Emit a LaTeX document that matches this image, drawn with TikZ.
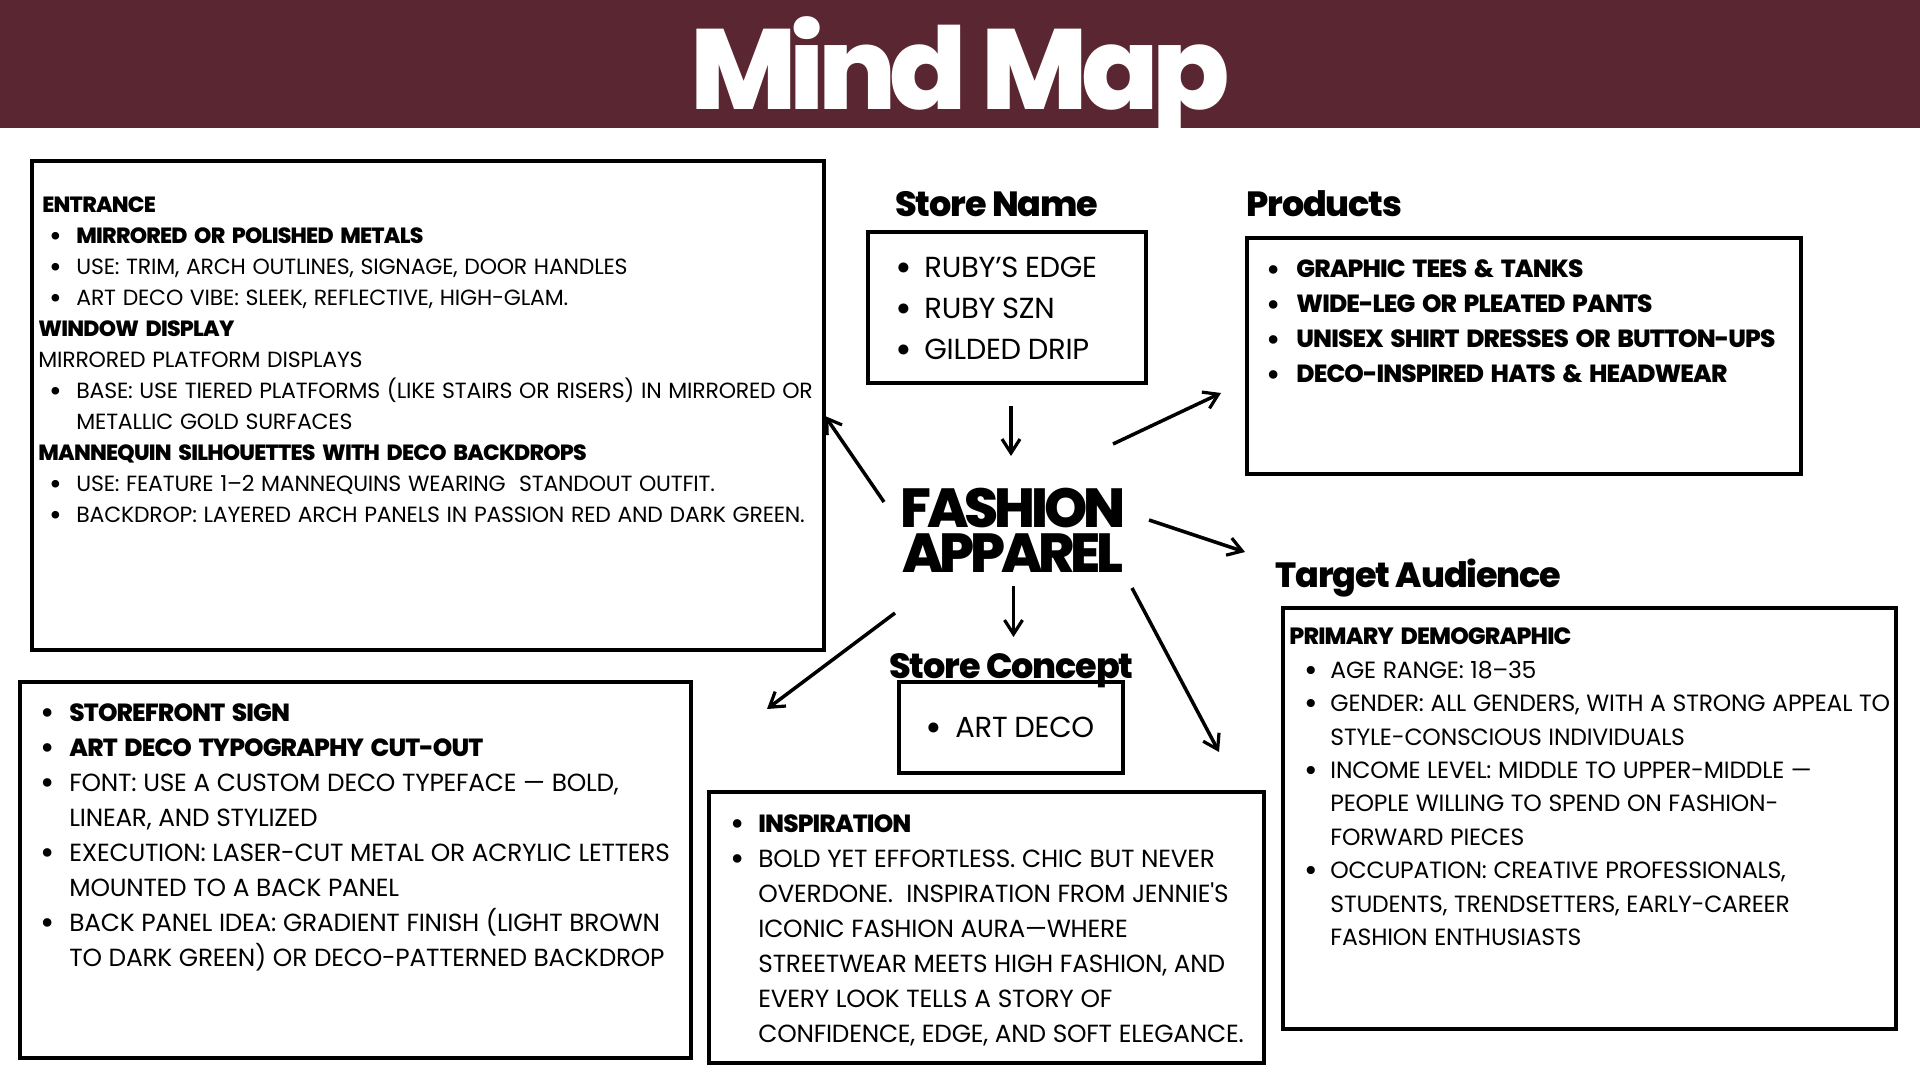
\documentclass[tikz,border=0pt]{standalone}
\usepackage{fontspec}
\usepackage{graphicx}
\usetikzlibrary{arrows.meta}
\setmainfont{Poppins}
\newfontfamily\headfont[LetterSpace=-3.3,BoldFont={Poppins ExtraBold}]{Poppins}
\newfontfamily\titlefont[LetterSpace=-6,BoldFont={Poppins ExtraBold}]{Poppins}
\newfontfamily\centerfont[LetterSpace=-7.5,BoldFont={Poppins ExtraBold}]{Poppins}
\newfontfamily\bodyfont[LetterSpace=-0.9]{Poppins}
\newfontfamily\boldbody[LetterSpace=-3.5,BoldFont={Poppins ExtraBold}]{Poppins}
\newlength\bulin \newlength\txtin
\newcommand\setbul[2]{\setlength\bulin{#1}\setlength\txtin{#2}}
\newcommand\hb[1]{{\boldbody\bfseries #1}}
\newcommand\bul[1]{\par\hangindent=\txtin\hangafter=1\noindent\hbox to \txtin{\hskip\bulin\raisebox{-0.14em}{\scalebox{1.4}{•}}\hfil}\strut #1}
\newcommand\plain[2][0pt]{\par\noindent\hskip#1\strut #2}
\newcommand\fs[2]{\fontsize{#1}{#2}\selectfont}
\definecolor{banner}{HTML}{5A2631}
\tikzset{
  x=0.5pt,y=-0.5pt,
  box/.style={draw=black,line width=1.8pt,anchor=north west,inner sep=0pt,outer sep=0pt,fill=none},
  boxtext/.style={anchor=north west,inner sep=0pt,text=black,font=\bodyfont},
  headtext/.style={anchor=base west,inner sep=0pt,text=black,font=\headfont\bfseries\fontsize{17.5}{20}\selectfont},
  link/.style={line width=1.75pt,-{Straight Barb[length=7pt,width=9pt,line width=1.6pt]}},
}
\newcommand\boxat[5]{\node[box,minimum width=#4*0.5pt,minimum height=#5*0.5pt] (#1) at (#2,#3) {};}
\begin{document}
\begin{tikzpicture}
\useasboundingbox (0,0) rectangle (1920,1080);
\fill[banner] (0,0) rectangle (1920,128);
\node[anchor=base,inner sep=0pt,text=white,font=\titlefont\bfseries\fontsize{57}{60}\selectfont] (title) at (960,110) {Mind Map};

\boxat{entrancebox}{32}{161}{792}{489}
\boxat{namebox}{868}{232}{278}{151}
\boxat{productbox}{1247}{238}{554}{236}
\boxat{targetbox}{1283}{608}{613}{421}
\boxat{conceptbox}{899}{682}{224}{91}
\boxat{inspirebox}{709}{792}{555}{271}
\boxat{signbox}{20}{682}{671}{376}

\node[headtext] (namehead) at (895,217) {Store Name};
\node[headtext] (producthead) at (1246,217) {Products};
\node[headtext] (targethead) at (1275,587) {Target Audience};
\node[headtext] (concepthead) at (889,678) {Store Concept};

\node[inner sep=0pt,anchor=base,font=\centerfont\bfseries\fontsize{27.5}{22.5}\selectfont,align=center] (fashion) at (1013,572) {FASHION\\APPAREL};

\node[boxtext,text width=395pt] (entrancetext) at (38,181) {\fs{11}{15.5}\setbul{5.7pt}{19pt}%
\plain[2pt]{\hb{ENTRANCE}}
\bul{\hb{MIRRORED OR POLISHED METALS}}
\bul{USE: TRIM, ARCH OUTLINES, SIGNAGE, DOOR HANDLES}
\bul{ART DECO VIBE: SLEEK, REFLECTIVE, HIGH-GLAM.}
\plain{\hb{WINDOW DISPLAY}}
\plain{MIRRORED PLATFORM DISPLAYS}
\bul{BASE: USE TIERED PLATFORMS (LIKE STAIRS OR RISERS) IN MIRRORED OR\newline METALLIC GOLD SURFACES}
\plain{\hb{MANNEQUIN SILHOUETTES WITH DECO BACKDROPS}}
\bul{USE: FEATURE 1–2 MANNEQUINS WEARING\ \ STANDOUT OUTFIT.}
\bul{BACKDROP: LAYERED ARCH PANELS IN PASSION RED AND DARK GREEN.}\par
};

\node[boxtext,text width=120pt] (nametext) at (892,236) {\fs{14.5}{20.5}\setbul{1.3pt}{16pt}%
\bul{RUBY’S EDGE}
\bul{RUBY SZN}
\bul{GILDED DRIP}\par
};

\node[boxtext,text width=275pt] (producttext) at (1265,242.5) {\fs{12.4}{17.5}\setbul{0.7pt}{15.5pt}%
\bul{\hb{GRAPHIC TEES \& TANKS}}
\bul{\hb{WIDE-LEG OR PLEATED PANTS}}
\bul{\hb{UNISEX SHIRT DRESSES OR BUTTON-UPS}}
\bul{\hb{DECO-INSPIRED HATS \& HEADWEAR}}\par
};

\node[boxtext,text width=305pt] (targettext) at (1289,611) {\fs{11.75}{16.7}\setbul{7.3pt}{20.5pt}%
\plain{\hb{PRIMARY DEMOGRAPHIC}}
\bul{AGE RANGE: 18–35}
\bul{GENDER: ALL GENDERS, WITH A STRONG APPEAL TO\newline STYLE-CONSCIOUS INDIVIDUALS}
\bul{INCOME LEVEL: MIDDLE TO UPPER-MIDDLE —\newline PEOPLE WILLING TO SPEND ON FASHION-\newline FORWARD PIECES}
\bul{OCCUPATION: CREATIVE PROFESSIONALS,\newline STUDENTS, TRENDSETTERS, EARLY-CAREER\newline FASHION ENTHUSIASTS}\par
};

\node[boxtext,text width=90pt] (concepttext) at (926,696.5) {\fs{14.5}{20.5}\setbul{-0.5pt}{14.5pt}%
\bul{ART DECO}\par
};

\node[boxtext,text width=270pt] (inspiretext) at (733,797) {\fs{12.4}{17.5}\setbul{-1.7pt}{12.5pt}%
\bul{\hb{INSPIRATION}}
\bul{BOLD YET EFFORTLESS. CHIC BUT NEVER\newline OVERDONE.\ \ INSPIRATION FROM JENNIE'S\newline ICONIC FASHION AURA—WHERE\newline STREETWEAR MEETS HIGH FASHION, AND\newline EVERY LOOK TELLS A STORY OF\newline CONFIDENCE, EDGE, AND SOFT ELEGANCE.}\par
};

\node[boxtext,text width=330pt] (signtext) at (44,686) {\fs{12.4}{17.5}\setbul{-1.7pt}{12.5pt}%
\bul{\hb{STOREFRONT SIGN}}
\bul{\hb{ART DECO TYPOGRAPHY CUT-OUT}}
\bul{FONT: USE A CUSTOM DECO TYPEFACE — BOLD,\newline LINEAR, AND STYLIZED}
\bul{EXECUTION: LASER-CUT METAL OR ACRYLIC LETTERS\newline MOUNTED TO A BACK PANEL}
\bul{BACK PANEL IDEA: GRADIENT FINISH (LIGHT BROWN\newline TO DARK GREEN) OR DECO-PATTERNED BACKDROP}\par
};

\coordinate (a1s) at (1011,406); \coordinate (a1e) at (1011,456);
\coordinate (a2s) at (1113,444); \coordinate (a2e) at (1221,393);
\coordinate (a3s) at (1149,520); \coordinate (a3e) at (1245,552);
\coordinate (a4s) at (1013.5,586); \coordinate (a4e) at (1013.5,637);
\coordinate (a5s) at (1132,588); \coordinate (a5e) at (1219,752);
\coordinate (a6s) at (895,613); \coordinate (a6e) at (767,709);
\coordinate (a7s) at (884,502); \coordinate (a7e) at (825,416);
\foreach \i in {1,...,7} {\draw[link] (a\i s) -- (a\i e);}
\end{tikzpicture}
\end{document}
